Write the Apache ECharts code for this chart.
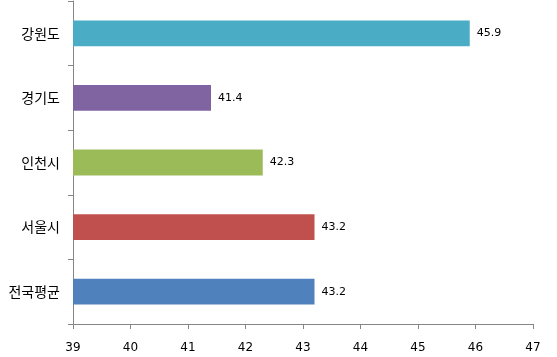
<!DOCTYPE html>
<html><head><meta charset="utf-8">
<script src="https://cdn.jsdelivr.net/npm/echarts@6/dist/echarts.min.js"></script>
<style>html,body{margin:0;padding:0;background:#fff}#c{width:557px;height:357px}</style>
</head><body><div id="c"></div>
<script>
const categories = ['전국평균', '서울시', '인천시', '경기도', '강원도'];
const values = [43.2, 43.2, 42.3, 41.4, 45.9];
const barColors = ['#4F81BD', '#C0504D', '#9BBB59', '#8064A2', '#4BACC6'];
const xTicks = [39, 40, 41, 42, 43, 44, 45, 46, 47];

const chart = echarts.init(document.getElementById('c'), null, {renderer: 'canvas'});
chart.setOption({
  animation: false,
  grid: {left: 73, right: 24, top: 1, bottom: 33, containLabel: false},
  xAxis: {
    type: 'value', min: xTicks[0], max: xTicks[xTicks.length - 1], interval: 1,
    axisLine: {show: true, lineStyle: {color: '#868686', width: 1}},
    axisTick: {show: true, length: 5, lineStyle: {color: '#868686'}},
    splitLine: {show: false},
    axisLabel: {color: '#000', fontSize: 12, fontFamily: 'DejaVu Sans', margin: 18}
  },
  yAxis: {
    type: 'category', data: categories,
    axisLine: {show: true, lineStyle: {color: '#868686', width: 1}},
    axisTick: {show: true, length: 5, alignWithLabel: false, lineStyle: {color: '#868686'}},
    axisLabel: {color: '#000', fontSize: 14, fontFamily: 'Noto Sans CJK KR', margin: 13}
  },
  series: [{
    type: 'bar',
    data: values.map((v, i) => ({value: v, itemStyle: {color: barColors[i]}})),
    barCategoryGap: '60%',
    label: {show: true, position: 'right', distance: 7, color: '#000', fontSize: 11, fontFamily: 'DejaVu Sans',
      formatter: p => p.value.toFixed(1)}
  }]
});
</script></body></html>
